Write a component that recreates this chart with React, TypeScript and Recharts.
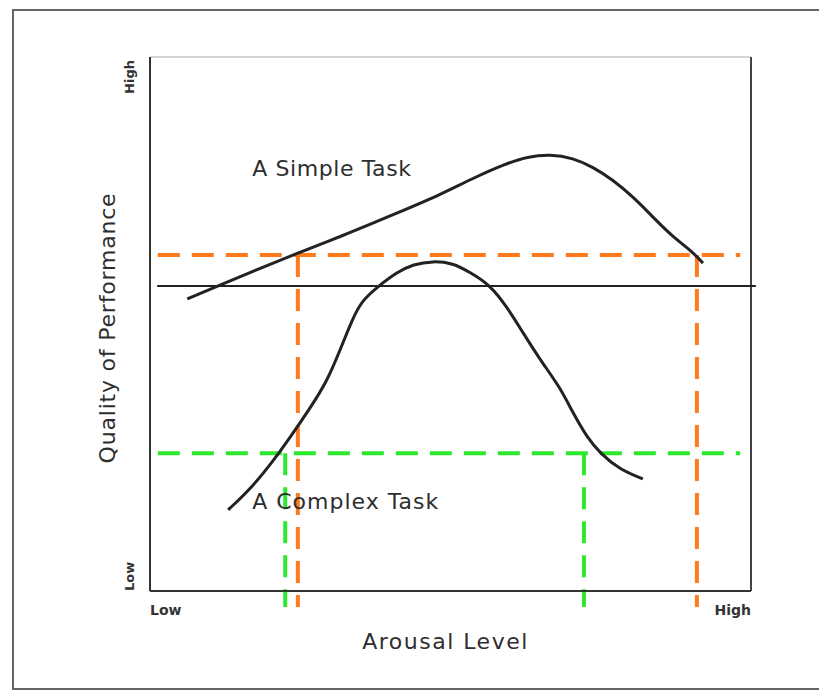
import React from "react";
import {
  ComposedChart,
  Line,
  XAxis,
  YAxis,
  ReferenceLine,
  ReferenceDot,
  Label,
} from "recharts";

// Simple task curve (arousal, performance)
const simpleX = [6.2, 11.6, 25.0, 31.6, 41.6, 48.3, 53.7, 59.4, 62.7, 66.6, 70.4, 73.7, 77.0, 80.4, 83.7, 87.0, 90.3, 92.0];
const simpleY = [54.7, 57.3, 63.5, 66.3, 71.0, 74.2, 77.3, 80.1, 81.3, 81.8, 81.1, 79.4, 77.0, 73.8, 70.0, 66.3, 63.5, 61.4];

// Complex task curve
const complexX = [13.0, 17.1, 21.6, 25.0, 27.8, 29.5, 31.6, 33.8, 35.4, 37.8, 41.1, 43.8, 47.1, 50.4, 53.2, 56.6, 59.4, 62.1, 64.9, 68.2, 70.4, 72.7, 74.9, 78.2, 82.0];
const complexY = [15.2, 19.5, 26.0, 31.5, 36.3, 39.5, 45.0, 51.3, 54.5, 56.9, 59.7, 61.2, 61.8, 61.4, 59.7, 57.3, 53.2, 48.3, 43.3, 38.2, 33.3, 28.8, 25.8, 22.7, 21.0];

// Threshold levels
const orangeLevel = 62.9;
const blackLevel = 57.1;
const greenLevel = 25.8;
const orangeXs = [24.6, 91.0];
const greenXs = [22.5, 72.2];
const hLineStart = 1.3;
const hLineEnd = 98.2;
const blackStart = 1.2;
const blackEnd = 100.8;
const dropBottom = -3;

// Axis ticks
const xTicks = [0, 100];
const xTickLabels = ["Low", "High"];
const yTicks = [0, 100];
const yTickLabels = ["Low", "High"];

const simpleData = simpleX.map((x, i) => ({ x, y: simpleY[i] }));
const complexData = complexX.map((x, i) => ({ x, y: complexY[i] }));

const FONT = "'DejaVu Sans', 'Noto Sans', sans-serif";
const ORANGE = "#FF7A1C";
const GREEN = "#2EE82E";
const INK = "#222";
const TEXT = "#2e2e2e";

const XTick = (props: any) => {
  const { x, y, payload } = props;
  const i = xTicks.indexOf(payload.value);
  return (
    <text
      x={x}
      y={y + 16}
      textAnchor={i === 0 ? "start" : "end"}
      fontFamily={FONT}
      fontSize={14}
      fontWeight="bold"
      fill="#333"
    >
      {xTickLabels[i]}
    </text>
  );
};

const YTick = (props: any) => {
  const { x, y, payload } = props;
  const i = yTicks.indexOf(payload.value);
  const tx = x - 13;
  const ty = i === 0 ? y : y + 3;
  return (
    <text
      x={tx}
      y={ty}
      transform={`rotate(-90 ${tx} ${ty})`}
      textAnchor={i === 0 ? "start" : "end"}
      dominantBaseline="central"
      fontFamily={FONT}
      fontSize={13}
      fontWeight="bold"
      fill="#333"
    >
      {yTickLabels[i]}
    </text>
  );
};

const YTitle = (props: any) => {
  const vb = props.viewBox;
  const cx = vb.x + 17;
  const cy = vb.y + vb.height / 2 + 4;
  return (
    <text
      x={cx}
      y={cy}
      transform={`rotate(-90 ${cx} ${cy})`}
      textAnchor="middle"
      dominantBaseline="central"
      fontFamily={FONT}
      fontSize={22}
      fill={TEXT}
      letterSpacing={0.8}
    >
      Quality of Performance
    </text>
  );
};

const XTitle = (props: any) => {
  const vb = props.viewBox;
  const cx = vb.x + vb.width / 2 - 5;
  return (
    <text
      x={cx}
      y={vb.y + 50}
      textAnchor="middle"
      dominantBaseline="central"
      fontFamily={FONT}
      fontSize={22}
      fill={TEXT}
      letterSpacing={1.5}
    >
      Arousal Level
    </text>
  );
};

const CurveLabel = (text: string, spacing: number) => (props: any) => {
  const vb = props.viewBox;
  return (
    <text
      x={vb.x}
      y={vb.y}
      textAnchor="start"
      dominantBaseline="central"
      fontFamily={FONT}
      fontSize={22}
      fill={TEXT}
      letterSpacing={spacing}
    >
      {text}
    </text>
  );
};

export default function App() {
  return (
    <div style={{ position: "absolute", left: 0, top: 0, width: 819, height: 694, background: "#fff", overflow: "hidden" }}>
      <div
        style={{
          position: "absolute",
          left: 12,
          top: 9,
          width: 830,
          height: 681,
          border: "2px solid #666",
          boxSizing: "border-box",
        }}
      />
      <div style={{ position: "absolute", left: 0, top: 0 }}>
        <ComposedChart
          width={819}
          height={694}
          margin={{ top: 57, right: 68, bottom: 73, left: 90 }}
        >
          <XAxis
            type="number"
            dataKey="x"
            domain={[0, 100]}
            ticks={xTicks}
            tick={<XTick />}
            tickLine={false}
            axisLine={{ stroke: "#333", strokeWidth: 2 }}
            height={30}
            allowDataOverflow
          >
            <Label content={<XTitle />} />
          </XAxis>
          <YAxis
            type="number"
            dataKey="y"
            domain={[0, 100]}
            ticks={yTicks}
            tick={<YTick />}
            tickLine={false}
            axisLine={{ stroke: "#333", strokeWidth: 2 }}
            width={60}
            allowDataOverflow
          >
            <Label content={<YTitle />} />
          </YAxis>

          {/* plot frame top and right */}
          <ReferenceLine y={100} stroke="#aaa" strokeWidth={1} ifOverflow="visible" />
          <ReferenceLine x={100} stroke="#444" strokeWidth={2} ifOverflow="visible" />

          {/* black reference line */}
          <ReferenceLine
            segment={[{ x: blackStart, y: blackLevel }, { x: blackEnd, y: blackLevel }]}
            stroke={INK}
            strokeWidth={2}
            ifOverflow="visible"
          />

          {/* orange dashed */}
          <ReferenceLine
            segment={[{ x: hLineStart, y: orangeLevel }, { x: hLineEnd, y: orangeLevel }]}
            stroke={ORANGE}
            strokeWidth={4}
            strokeDasharray="22 12"
            ifOverflow="visible"
          />
          {orangeXs.map((ox) => (
            <ReferenceLine
              key={"o" + ox}
              segment={[{ x: ox, y: orangeLevel }, { x: ox, y: dropBottom }]}
              stroke={ORANGE}
              strokeWidth={4}
              strokeDasharray="22 12"
              ifOverflow="visible"
            />
          ))}

          {/* green dashed */}
          <ReferenceLine
            segment={[{ x: hLineStart, y: greenLevel }, { x: hLineEnd, y: greenLevel }]}
            stroke={GREEN}
            strokeWidth={4}
            strokeDasharray="22 12"
            ifOverflow="visible"
          />
          {greenXs.map((gx) => (
            <ReferenceLine
              key={"g" + gx}
              segment={[{ x: gx, y: greenLevel }, { x: gx, y: dropBottom }]}
              stroke={GREEN}
              strokeWidth={4}
              strokeDasharray="22 12"
              ifOverflow="visible"
            />
          ))}

          <Line
            data={simpleData}
            dataKey="y"
            type="basis"
            stroke={INK}
            strokeWidth={3}
            dot={false}
            isAnimationActive={false}
          />
          <Line
            data={complexData}
            dataKey="y"
            type="basis"
            stroke={INK}
            strokeWidth={3}
            dot={false}
            isAnimationActive={false}
          />

          <ReferenceDot x={17.0} y={79.2} r={0} fill="none" stroke="none" label={{ content: CurveLabel("A Simple Task", 0.6) }} />
          <ReferenceDot x={17.0} y={16.7} r={0} fill="none" stroke="none" label={{ content: CurveLabel("A Complex Task", 1) }} />
        </ComposedChart>
      </div>
    </div>
  );
}
